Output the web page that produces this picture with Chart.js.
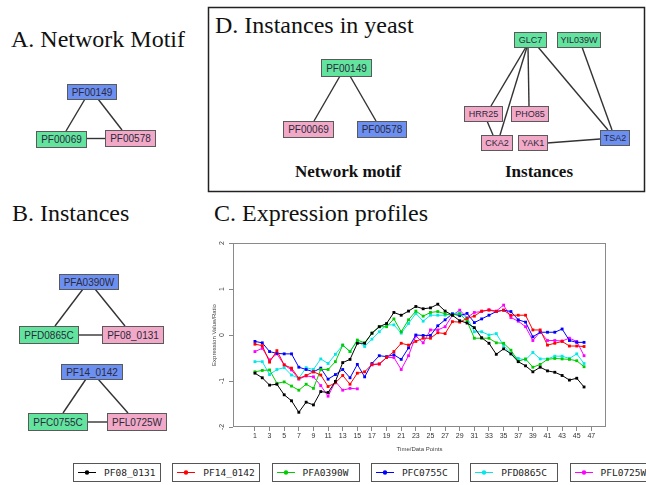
<!DOCTYPE html>
<html><head><meta charset="utf-8">
<script src="https://cdn.jsdelivr.net/npm/chart.js@4/dist/chart.umd.min.js"></script>
<style>
html,body{margin:0;padding:0;background:#fff;}
#wrap{position:relative;width:646px;height:485px;overflow:hidden;background:#fff;}
#fig{position:absolute;left:0;top:0;}
#chartBox{position:absolute;left:200px;top:232px;width:420px;height:224px;}
.lg{position:absolute;top:463px;width:88px;height:19px;border:1px solid #555;box-sizing:border-box;background:#fff;font-family:"DejaVu Sans Mono",monospace;font-size:9.5px;color:#222;}
.lg svg{position:absolute;left:0;top:0;}
.lg span{position:absolute;left:30px;top:3px;line-height:12px;}
</style></head>
<body><div id="wrap">
<svg id="fig" width="646" height="485" xmlns="http://www.w3.org/2000/svg"></svg>
<div id="chartBox"><canvas id="c" width="420" height="224"></canvas></div>
<div id="legend"></div>
</div>
<script>
// ---------- data ----------
const timePoints = [1,2,3,4,5,6,7,8,9,10,11,12,13,14,15,16,17,18,19,20,21,22,23,24,25,26,27,28,29,30,31,32,33,34,35,36,37,38,39,40,41,42,43,44,45,46];
const xTickLabels = [1,3,5,7,9,11,13,15,17,19,21,23,25,27,29,31,33,35,37,39,41,43,45,47];
const yTickValues = [2,1,0,-1,-2];
const yTickLabels = ["2","1","0","-1","-2"];
const seriesNames = ["PF08_0131","PF14_0142","PFA0390W","PFC0755C","PFD0865C","PFL0725W"];
const seriesColors = ["#000000","#ff0000","#00cc00","#0000ff","#00e8e8","#ff00ff"];
const PF08_0131 = [-0.83,-0.93,-1.09,-1.07,-1.30,-1.43,-1.68,-1.46,-1.52,-1.23,-1.25,-1.01,-0.60,-0.53,-0.18,-0.18,0.04,0.18,0.25,0.49,0.43,0.52,0.62,0.57,0.59,0.67,0.52,0.43,0.31,0.26,0.16,-0.06,-0.18,-0.42,-0.30,-0.41,-0.58,-0.67,-0.80,-0.70,-0.78,-0.81,-0.88,-0.98,-0.94,-1.13];
const PF14_0142 = [-0.20,-0.23,-0.59,-0.34,-0.65,-0.72,-0.94,-0.88,-0.80,-0.87,-1.12,-1.04,-0.88,-1.07,-0.83,-0.80,-0.64,-0.63,-0.49,-0.36,-0.18,-0.22,-0.14,-0.07,-0.07,0.05,0.03,0.29,0.28,0.36,0.41,0.52,0.54,0.51,0.54,0.43,0.43,0.43,0.11,0.11,-0.22,-0.18,-0.14,-0.24,-0.24,-0.25];
const PFA0390W = [-0.80,-0.77,-0.76,-1.05,-1.02,-1.11,-1.20,-1.07,-1.16,-0.75,-0.75,-0.58,-0.22,-0.36,-0.11,-0.17,0.04,0.18,0.18,0.35,0.07,0.33,0.52,0.41,0.49,0.51,0.46,0.43,0.46,0.30,-0.07,-0.07,-0.07,-0.17,-0.18,-0.33,-0.57,-0.52,-0.70,-0.64,-0.53,-0.51,-0.52,-0.53,-0.56,-0.69];
const PFC0755C = [-0.14,-0.17,-0.36,-0.40,-0.41,-0.41,-0.70,-0.75,-0.80,-0.72,-0.96,-0.86,-0.75,-0.93,-0.64,-0.91,-0.62,-0.45,-0.47,-0.43,-0.53,-0.28,0.00,-0.01,-0.01,0.20,0.33,0.46,0.42,0.47,0.27,0.35,0.43,0.51,0.54,0.51,0.33,0.28,-0.04,0.06,0.06,0.06,0.13,-0.12,-0.16,-0.16];
const PFD0865C = [-0.58,-0.58,-0.86,-0.75,-0.71,-0.87,-0.94,-0.71,-0.75,-0.52,-0.62,-0.42,-0.22,-0.36,-0.13,-0.25,-0.09,0.07,0.22,0.22,0.04,0.25,0.47,0.30,0.43,0.43,0.43,0.46,0.48,0.38,0.07,0.07,0.00,0.03,-0.23,-0.41,-0.51,-0.54,-0.38,-0.52,-0.52,-0.46,-0.46,-0.51,-0.41,-0.62];
const PFL0725W = [-0.36,-0.29,-0.54,-0.41,-0.65,-0.76,-0.96,-0.89,-0.91,-1.10,-1.33,-1.01,-1.20,-1.16,-1.17,null,-0.65,-0.63,-0.49,-0.49,-0.75,-0.45,-0.02,-0.17,0.11,0.11,0.18,0.43,0.54,0.38,0.49,0.51,0.55,0.52,0.65,0.38,0.30,0.18,-0.12,0.07,-0.12,-0.12,-0.13,-0.07,-0.14,-0.45];
const seriesValues = [PF08_0131,PF14_0142,PFA0390W,PFC0755C,PFD0865C,PFL0725W];
const xAxisTitle = "Time/Data Points";
const yAxisTitle = "Expression Value/Ratio";

// ---------- figure text & networks ----------
const NS = "http://www.w3.org/2000/svg";
const fig = document.getElementById('fig');
function el(tag, attrs, text){const e=document.createElementNS(NS,tag);for(const k in attrs)e.setAttribute(k,attrs[k]);if(text!==undefined)e.textContent=text;fig.appendChild(e);return e;}
const FILL = {b:"#6c8ff2", g:"#62e49f", p:"#f2a9c8"};
function title(x,y,t,size,weight,anchor){el('text',{x:x,y:y,'font-family':'Liberation Serif, serif','font-size':size,'font-weight':weight||'normal','text-anchor':anchor||'start',fill:'#111'},t);}
function edge(x1,y1,x2,y2){el('line',{x1:x1,y1:y1,x2:x2,y2:y2,stroke:'#333','stroke-width':1.4});}
function node(x,y,w,h,label,c,fs){el('rect',{x:x+0.5,y:y+0.5,width:w,height:h,fill:FILL[c],stroke:'#5a5a5a','stroke-width':1});
  el('text',{x:x+0.5+w/2,y:y+0.5+h/2+fs*0.36,'font-family':'Liberation Sans, Arial, sans-serif','font-size':fs,'text-anchor':'middle',fill:'#2a2a3a'},label);}

title(11,47,"A. Network Motif",24);
title(215,33,"D. Instances in yeast",24);
title(12,221,"B. Instances",24);
title(214,221,"C. Expression profiles",24);
el('rect',{x:208.5,y:7.5,width:436,height:184,fill:'none',stroke:'#222','stroke-width':1.5});
title(348,177,"Network motif",17,'bold','middle');
title(539,177,"Instances",17,'bold','middle');

// A
edge(85,99,66,131); edge(98,99,122,130); edge(86,138.5,105,138.5);
node(67,84,49,15,"PF00149",'b',10);
node(36,131,50,16,"PF00069",'g',10);
node(105,130,50,16,"PF00578",'p',10);
// D motif
edge(340,76,314,121); edge(350,76,376,121);
node(321,59,50,17,"PF00149",'g',10);
node(283,121,50,16,"PF00069",'p',10);
node(357,121,49,16,"PF00578",'b',10);
// D instances
edge(526,47,491,106); edge(527,47,500,135); edge(528,47,529,106); edge(538,47,608,130); edge(582,47,612,130); edge(487,121,493,135); edge(547,143,600,139);
node(514,32,32,15,"GLC7",'g',9);
node(557,32,43,15,"YIL039W",'g',9);
node(464,106,38,15,"HRR25",'p',9);
node(511,106,37,15,"PHO85",'p',9);
node(481,135,31,15,"CKA2",'p',9);
node(518,135,29,15,"YAK1",'p',9);
node(600,130,29,15,"TSA2",'b',9);
// B
edge(83,289,55,326); edge(95,289,125,326); edge(78,335,102,335);
node(59,274,59,15,"PFA0390W",'b',10);
node(19,326,59,17,"PFD0865C",'g',10);
node(102,326,61,17,"PF08_0131",'p',10);
edge(86,379,63,413); edge(98,379,128,413); edge(87,422,107,422);
node(61,364,61,15,"PF14_0142",'b',10);
node(28,413,59,17,"PFC0755C",'g',10);
node(107,413,59,17,"PFL0725W",'p',10);

// ---------- legend ----------
const lg = document.getElementById('legend');
seriesNames.forEach((n,i)=>{
  const d=document.createElement('div'); d.className='lg'; d.style.left=(73+i*99.3)+'px';
  d.innerHTML='<svg width="30" height="17"><line x1="4" y1="8.5" x2="22" y2="8.5" stroke="'+seriesColors[i]+'" stroke-width="1"/><circle cx="13" cy="8.5" r="2.2" fill="'+seriesColors[i]+'"/></svg><span>'+n+'</span>';
  lg.appendChild(d);
});

// ---------- chart ----------
const framePlugin = {id:'frame', afterDraw(chart){
  const {ctx, chartArea:a} = chart;
  ctx.save();
  ctx.strokeStyle='#8a8a8a'; ctx.lineWidth=1;
  ctx.strokeRect(Math.round(a.left)+0.5, Math.round(a.top)+0.5, Math.round(a.right-a.left)-1, Math.round(a.bottom-a.top)-1);
  const ys = chart.scales.y;
  ctx.fillStyle='#444'; ctx.textAlign='center'; ctx.textBaseline='middle';
  ctx.font='7px "Liberation Sans", sans-serif';
  yTickValues.forEach((v,i)=>{const py=ys.getPixelForValue(v); ctx.save(); ctx.translate(a.left-11,py); ctx.rotate(-Math.PI/2); ctx.fillText(yTickLabels[i],0,0); ctx.restore();});
  ctx.save(); ctx.translate(a.left-19,(a.top+a.bottom)/2); ctx.rotate(-Math.PI/2); ctx.font='6px "Liberation Sans", sans-serif'; ctx.fillText(yAxisTitle,0,0); ctx.restore();
  ctx.restore();
}};

new Chart(document.getElementById('c'), {
  type:'line',
  data:{datasets: seriesNames.map((n,i)=>({
    label:n,
    data: timePoints.map((t,j)=>({x:t, y:seriesValues[i][j]})),
    borderColor: seriesColors[i], backgroundColor: seriesColors[i],
    borderWidth:1, pointStyle:'rect', pointRadius:2, pointBorderWidth:0,
    tension:0, spanGaps:false, fill:false
  }))},
  options:{
    responsive:false, animation:false,
    layout:{padding:{left:0,right:14,top:11,bottom:0}},
    plugins:{legend:{display:false}, tooltip:{enabled:false}},
    scales:{
      x:{type:'linear', min:-2, max:49,
        afterBuildTicks:(s)=>{s.ticks = xTickLabels.map(v=>({value:v}));},
        afterFit:(s)=>{s.height=29;},
        grid:{drawOnChartArea:false, tickLength:4, color:'#888'},
        border:{display:false},
        ticks:{font:{size:7, family:'Liberation Sans'}, color:'#333', padding:1, maxRotation:0, autoSkip:false},
        title:{display:true, text:xAxisTitle, font:{size:6, family:'Liberation Sans'}, color:'#444', padding:{top:0,bottom:3}}
      },
      y:{min:-2, max:2,
        afterBuildTicks:(s)=>{s.ticks = yTickValues.map(v=>({value:v}));},
        afterFit:(s)=>{s.width=33;},
        grid:{drawOnChartArea:false, tickLength:4, color:'#888'},
        border:{display:false},
        ticks:{display:false}
      }
    }
  },
  plugins:[framePlugin]
});
</script>
</body></html>
